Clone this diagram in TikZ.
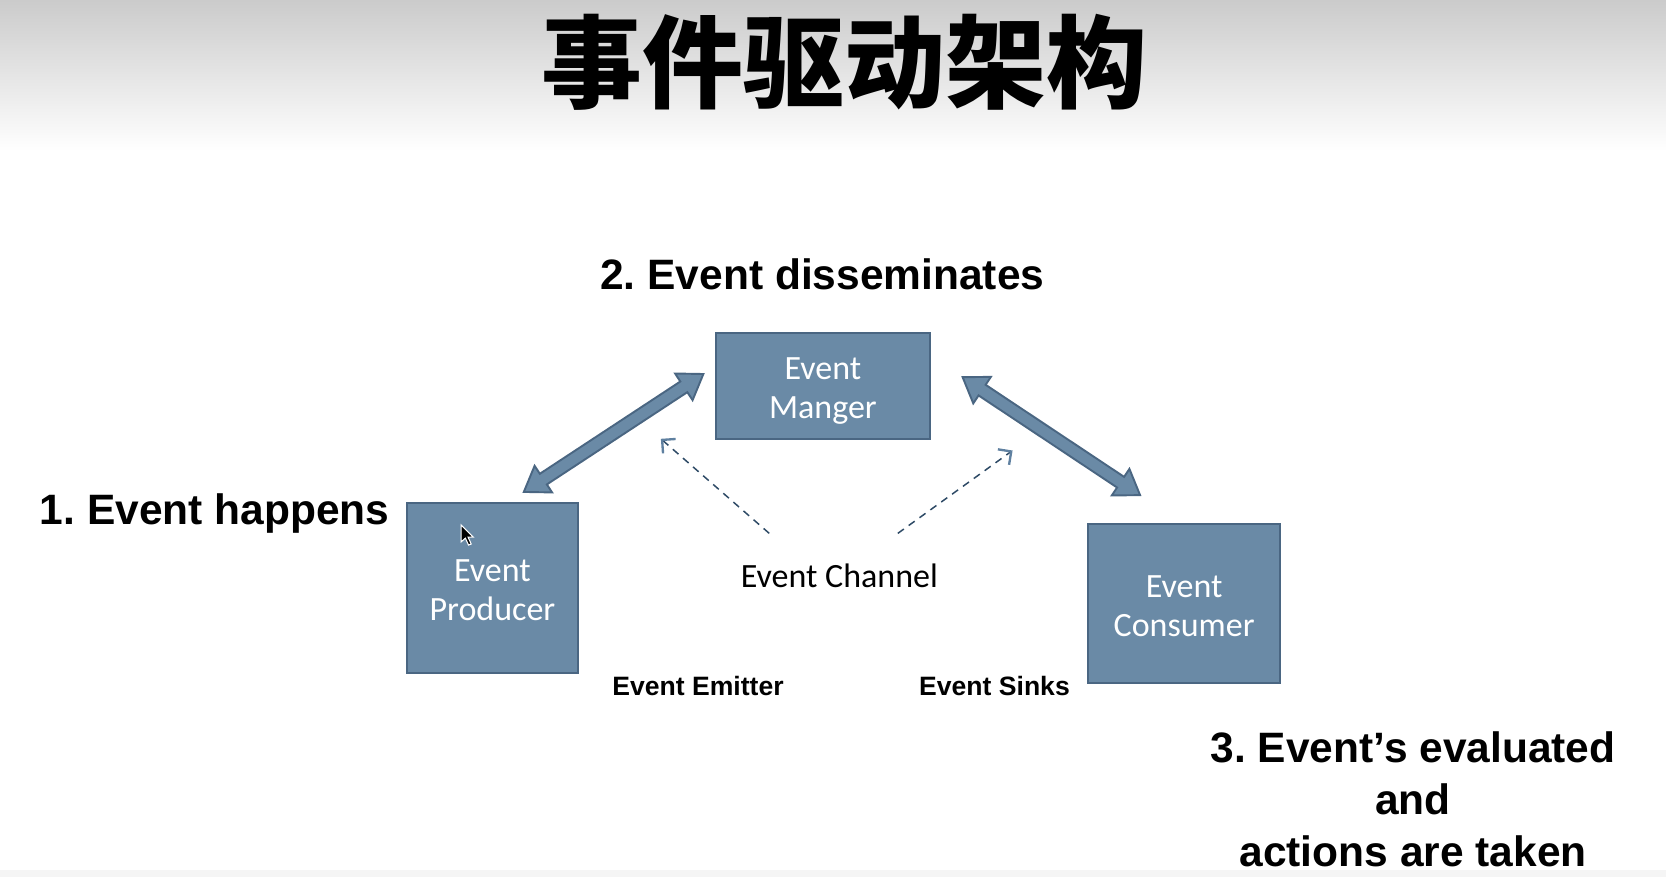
\documentclass[tikz,border=0pt]{standalone}
\usepackage{fontspec}
\setmainfont{Liberation Sans}
\newfontfamily\cjkfont{Noto Sans CJK SC}
\newfontfamily\calfont{Carlito}
\usetikzlibrary{calc,arrows.meta}
\definecolor{boxfill}{HTML}{6A8AA6}
\definecolor{boxline}{HTML}{4A6682}
\definecolor{dashcol}{HTML}{2E4A66}
\definecolor{barbcol}{HTML}{5F80A0}
\definecolor{topgray}{HTML}{CBCBCB}
\newcommand\blockdbl[2]{%
  \filldraw[blockarr]
    (#1) -- ($(#1)!\hl!(#2)!\hw!90:(#2)$) -- ($(#1)!\hl!(#2)!\sw!90:(#2)$)
    -- ($(#2)!\hl!(#1)!\sw!-90:(#1)$) -- ($(#2)!\hl!(#1)!\hw!-90:(#1)$)
    -- (#2) -- ($(#2)!\hl!(#1)!\hw!90:(#1)$) -- ($(#2)!\hl!(#1)!\sw!90:(#1)$)
    -- ($(#1)!\hl!(#2)!\sw!-90:(#2)$) -- ($(#1)!\hl!(#2)!\hw!-90:(#2)$) -- cycle;}
\def\hl{11pt}
\def\hw{7.5pt}
\def\sw{3pt}
\frenchspacing
\begin{document}
\frenchspacing
\begin{tikzpicture}[x=0.5pt,y=-0.5pt,
  box/.style={draw=boxline,fill=boxfill,line width=1pt,inner sep=0pt,outer sep=0pt,
    text=white,align=center,text height=31pt,text depth=0pt,
    font=\calfont\fontsize{16}{18.5}\selectfont},
  blockarr/.style={fill=boxfill,draw=boxline,line width=0.9pt,line join=miter},
  dasharr/.style={draw=dashcol,line width=0.7pt,dash pattern=on 3.5pt off 2.8pt,
    -{Straight Barb[length=4.5pt,width=9pt,line width=1.1pt,color=barbcol]}},
  biglab/.style={font=\bfseries\fontsize{20}{24.5}\selectfont,anchor=base,inner sep=0pt},
  smalllab/.style={font=\bfseries\fontsize{12.5}{15}\selectfont,anchor=base,inner sep=0pt}]
\useasboundingbox (0,0) rectangle (1568,825);
\fill[white] (0,0) rectangle (1568,825);
\shade[top color=topgray,bottom color=white] (0,0) rectangle (1568,142);
\fill[gray!8] (0,819) rectangle (1568,825);

\node[font=\cjkfont\bfseries\fontsize{47.5}{50}\selectfont,inner sep=0pt] (title) at (795,59) {事件驱动架构};

\node[biglab] (l2) at (774,272) {2. Event disseminates};
\node[biglab] (l1) at (202,494) {1. Event happens};
\node[biglab,align=center,anchor=north] (l3) at (1330,688) {3. Event’s evaluated\\and\\actions are taken};
\node[smalllab] (emit) at (657,655) {Event Emitter};
\node[smalllab] (sink) at (936,655) {Event Sinks};

\node[box,minimum width=100.5pt,minimum height=50pt] (mgr) at (774.5,363) {Event\\Manger};
\node[box,minimum width=80.5pt,minimum height=80pt] (prod) at (463.5,553) {Event\\Producer};
\node[box,minimum width=90.5pt,minimum height=75pt] (cons) at (1114.5,568) {Event\\Consumer};

\node[font=\calfont\fontsize{16}{18.5}\selectfont,anchor=base,inner sep=0pt] (chan) at (790,553) {Event Channel};

\coordinate (la1) at (493,463);
\coordinate (la2) at (662,352);
\coordinate (ra1) at (906,355);
\coordinate (ra2) at (1073,466);
\blockdbl{la1}{la2}
\blockdbl{ra1}{ra2}

\coordinate (dl1) at (724,502);
\coordinate (dl2) at (622,413);
\coordinate (dr1) at (845,502);
\coordinate (dr2) at (953,424);
\draw[dasharr] (dl1) -- (dl2);
\draw[dasharr] (dr1) -- (dr2);

% mouse pointer
\filldraw[fill=black,draw=white,line width=0.5pt,line join=miter]
  (434,494) -- (434,510) -- (438,506.5) -- (441,513) -- (443.5,512) -- (440.5,505.5) -- (445.5,505.5) -- cycle;
\end{tikzpicture}
\end{document}
